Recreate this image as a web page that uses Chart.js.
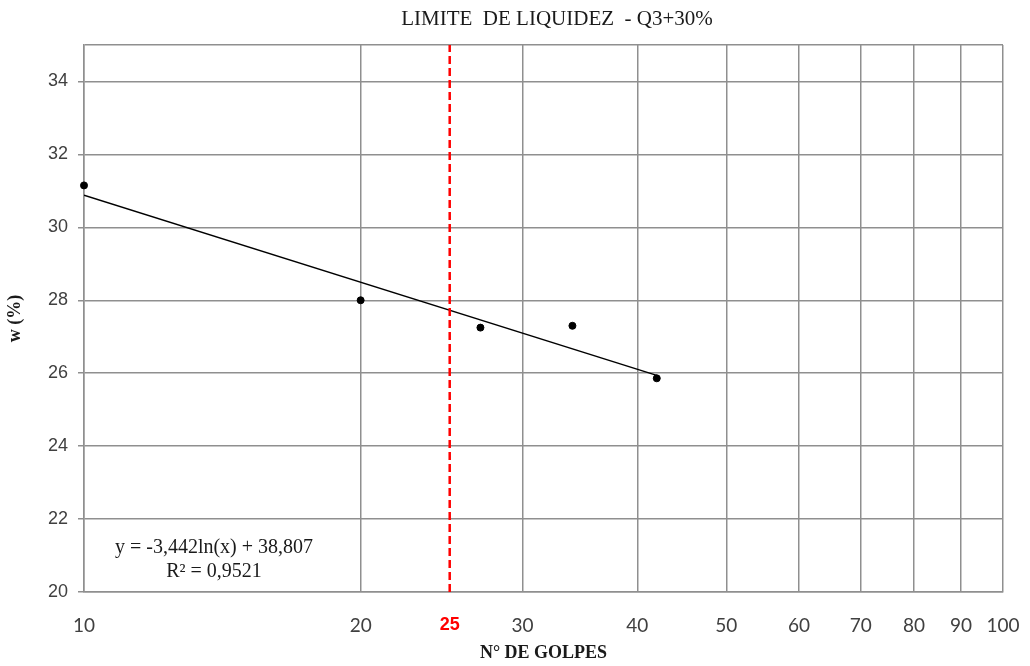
<!DOCTYPE html>
<html>

<head>
  <title>Limite de Liquidez</title>
  <script src="https://cdn.jsdelivr.net/npm/chart.js"></script>
  <style type="text/css">
    body {
      margin: 0;
      background: #fff;
    }

    .chart-box {
      position: relative;
      width: 1030px;
      height: 666px;
    }
  </style>
</head>

<body>
  <div class="chart-box">
    <canvas id="myChart"></canvas>
  </div>

  <script>
    // datos del ensayo
    const golpes = [10, 20, 27, 34, 42];
    const humedad = [31.15, 28.0, 27.25, 27.3, 25.86];
    // linea de tendencia (extremos)
    const tendX = [10, 42];
    const tendY = [30.88, 25.94];
    // limite a 25 golpes
    const limiteX = [25, 25];
    const limiteY = [20, 35];
    const xTicks = [10, 20, 25, 30, 40, 50, 60, 70, 80, 90, 100];
    const yTicks = [20, 22, 24, 26, 28, 30, 32, 34, 35];

    const gridColor = '#8f8f8f';

    // titulo y ecuacion
    const textPlugin = {
      id: 'textos',
      afterDatasetsDraw(chart) {
        const ctx = chart.ctx;
        const sx = chart.scales.x;
        const sy = chart.scales.y;
        ctx.save();
        ctx.fillStyle = '#1a1a1a';
        ctx.textAlign = 'center';
        ctx.textBaseline = 'middle';
        ctx.font = '20px "Liberation Serif"';
        const ex = sx.getPixelForValue(13.85);
        ctx.fillText('y = -3,442ln(x) + 38,807', ex, sy.getPixelForValue(21.2));
        ctx.fillText('R² = 0,9521', ex, sy.getPixelForValue(20.55));
        ctx.font = '21px "Liberation Serif"';
        ctx.fillText('LIMITE  DE LIQUIDEZ  - Q3+30%', 557, 19);
        ctx.restore();
      }
    };

    const ctx = document.getElementById('myChart').getContext('2d');
    const myChart = new Chart(ctx, {
      type: 'scatter',
      data: {
        datasets: [{
          label: 'Limite 25',
          data: limiteX.map((x, i) => ({ x: x, y: limiteY[i] })),
          showLine: true,
          borderColor: '#ff0000',
          borderWidth: 2.5,
          borderDash: [8, 4],
          pointRadius: 0
        }, {
          label: 'Tendencia',
          data: tendX.map((x, i) => ({ x: x, y: tendY[i] })),
          showLine: true,
          borderColor: '#000',
          borderWidth: 1.5,
          pointRadius: 0
        }, {
          label: 'w (%)',
          data: golpes.map((x, i) => ({ x: x, y: humedad[i] })),
          showLine: false,
          clip: false,
          backgroundColor: '#000',
          borderColor: '#000',
          pointRadius: 3.5
        }]
      },
      options: {
        responsive: true,
        maintainAspectRatio: false,
        animation: false,
        layout: {
          padding: { top: 45, right: 27, left: 0, bottom: 0 }
        },
        plugins: {
          legend: { display: false },
          tooltip: { enabled: false }
        },
        scales: {
          x: {
            type: 'logarithmic',
            min: 10,
            max: 100,
            afterBuildTicks: (scale) => {
              scale.ticks = xTicks.map(v => ({ value: v }));
            },
            afterFit: (scale) => {
              scale.height = 74;
              scale.paddingLeft = 0;
              scale.paddingRight = 0;
            },
            ticks: {
              autoSkip: false,
              maxRotation: 0,
              padding: 22,
              callback: (v) => String(v),
              color: (c) => c.tick && c.tick.value === 25 ? '#ff0000' : '#404040',
              font: (c) => c.tick && c.tick.value === 25
                ? { family: 'Liberation Sans', size: 18, weight: 'bold' }
                : { family: 'Lato', size: 19 }
            },
            grid: {
              color: (c) => c.tick && c.tick.value === 25 ? 'rgba(0,0,0,0)' : gridColor,
              lineWidth: 1.5,
              drawTicks: false
            },
            border: { color: gridColor, width: 1.5 },
            title: {
              display: true,
              text: 'N° DE GOLPES',
              color: '#1a1a1a',
              font: { family: 'Liberation Serif', size: 18, weight: 'bold' },
              padding: { top: 0, bottom: 2 }
            }
          },
          y: {
            min: 20,
            max: 35,
            afterBuildTicks: (scale) => {
              scale.ticks = yTicks.map(v => ({ value: v }));
            },
            afterFit: (scale) => {
              scale.width = 84;
            },
            ticks: {
              padding: 10,
              color: '#404040',
              font: { family: 'Liberation Sans', size: 18 },
              callback: (v) => v === 35 ? '' : String(v)
            },
            grid: {
              color: gridColor,
              lineWidth: 1.5,
              tickLength: 6,
              tickColor: (c) => c.tick && c.tick.value === 35 ? 'rgba(0,0,0,0)' : gridColor
            },
            border: { color: gridColor, width: 1.5 },
            title: {
              display: true,
              text: 'w (%)',
              color: '#1a1a1a',
              font: { family: 'Liberation Serif', size: 18, weight: 'bold' },
              padding: { top: 5, bottom: 0 }
            }
          }
        }
      },
      plugins: [textPlugin]
    });
  </script>
</body>

</html>
